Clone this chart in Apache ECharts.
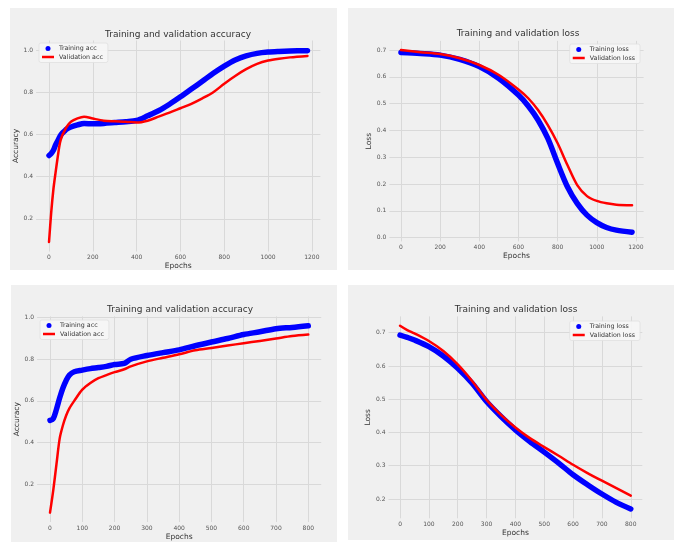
<!DOCTYPE html>
<html>
<head>
<meta charset="utf-8">
<script src="https://cdn.jsdelivr.net/npm/echarts@6/dist/echarts.min.js"></script>
<style>
html, body { margin: 0; padding: 0; background: #fff; }
#wrap { position: relative; width: 680px; height: 542px; overflow: hidden; }
.panel { position: absolute; background: #f0f0f0; }
#chart { position: absolute; left: 0; top: 0; width: 680px; height: 542px; }
</style>
</head>
<body>
<div id="wrap">
	<div class="panel" style="left:10px;top:8px;width:327px;height:262px;"></div>
	<div class="panel" style="left:348px;top:8px;width:326px;height:262px;"></div>
	<div class="panel" style="left:11px;top:285px;width:326px;height:257px;"></div>
	<div class="panel" style="left:348px;top:285px;width:326px;height:255px;"></div>
	<div id="chart"></div>
</div>
<script>
// run 1: 1200 epochs
var epochs1 = [0, 10, 20, 30, 40, 50, 60, 70, 80, 100, 130, 160, 200, 250, 300, 350, 400, 450, 500, 550, 600, 650, 700, 750, 800, 850, 900, 950, 1000, 1050, 1100, 1180];
var trainAcc1 = [0.50, 0.51, 0.525, 0.55, 0.57, 0.59, 0.605, 0.615, 0.625, 0.635, 0.645, 0.652, 0.65, 0.652, 0.656, 0.66, 0.666, 0.688, 0.712, 0.743, 0.778, 0.815, 0.852, 0.89, 0.924, 0.953, 0.972, 0.984, 0.99, 0.993, 0.995, 0.997];
var valAcc1 = [0.09, 0.23, 0.34, 0.42, 0.495, 0.56, 0.595, 0.615, 0.635, 0.66, 0.676, 0.684, 0.675, 0.665, 0.662, 0.66, 0.656, 0.665, 0.684, 0.703, 0.724, 0.745, 0.771, 0.80, 0.84, 0.877, 0.909, 0.934, 0.95, 0.959, 0.965, 0.972];

var lossEpochs1 = [0, 100, 200, 300, 400, 500, 600, 650, 700, 750, 800, 850, 900, 950, 1000, 1050, 1100, 1180];
var trainLoss1 = [0.691, 0.687, 0.681, 0.665, 0.638, 0.594, 0.532, 0.491, 0.439, 0.37, 0.277, 0.19, 0.128, 0.084, 0.056, 0.038, 0.028, 0.020];
var valLoss1 = [0.70, 0.692, 0.685, 0.669, 0.644, 0.607, 0.553, 0.52, 0.476, 0.42, 0.352, 0.271, 0.196, 0.155, 0.137, 0.128, 0.123, 0.121];

// run 2: 800 epochs
var epochs2 = [0, 10, 20, 30, 40, 50, 60, 75, 100, 125, 150, 175, 200, 230, 250, 300, 350, 400, 450, 500, 550, 600, 650, 700, 750, 800];
var trainAcc2 = [0.506, 0.515, 0.56, 0.615, 0.662, 0.698, 0.724, 0.74, 0.748, 0.755, 0.76, 0.766, 0.775, 0.78, 0.80, 0.818, 0.832, 0.845, 0.865, 0.883, 0.90, 0.919, 0.932, 0.947, 0.953, 0.961];
var valAcc2 = [0.063, 0.17, 0.296, 0.42, 0.483, 0.53, 0.564, 0.60, 0.654, 0.686, 0.709, 0.724, 0.738, 0.752, 0.766, 0.79, 0.807, 0.824, 0.843, 0.854, 0.866, 0.877, 0.888, 0.90, 0.912, 0.919];

var lossEpochs2 = [0, 25, 50, 100, 150, 200, 250, 300, 350, 400, 450, 500, 550, 600, 650, 700, 750, 800];
var trainLoss2 = [0.693, 0.686, 0.678, 0.658, 0.63, 0.593, 0.548, 0.493, 0.448, 0.408, 0.373, 0.341, 0.308, 0.273, 0.243, 0.215, 0.19, 0.17];
var valLoss2 = [0.721, 0.708, 0.698, 0.675, 0.645, 0.605, 0.555, 0.498, 0.453, 0.415, 0.383, 0.356, 0.33, 0.303, 0.278, 0.255, 0.233, 0.21];

var FONT = 'DejaVu Sans';
var GRID_COLOR = '#d9d9d9';

function pairs(xs, ys) {
	var out = [];
	for (var i = 0; i < xs.length; i++) {
		out.push([xs[i], ys[i]]);
	}
	return out;
}

function xAxis(idx, min, max, split) {
	return {
		type: 'value', gridIndex: idx, min: min, max: max, splitNumber: split,
		name: 'Epochs', nameLocation: 'middle', nameGap: 11,
		nameTextStyle: { fontSize: 7.5, color: '#333', fontFamily: FONT },
		axisLine: { show: false },
		axisTick: { show: false },
		axisLabel: {
			fontSize: 6, color: '#555', margin: 3, fontFamily: FONT, showMinLabel: false, showMaxLabel: false,
			formatter: function(v) { return String(v); }
		},
		splitLine: { showMinLine: false, showMaxLine: false, lineStyle: { color: GRID_COLOR, width: 1 } }
	};
}

function yAxis(idx, name, min, max, split, gap) {
	return {
		type: 'value', gridIndex: idx, min: min, max: max, splitNumber: split,
		name: name, nameLocation: 'middle', nameGap: gap,
		nameTextStyle: { fontSize: 7.5, color: '#333', fontFamily: FONT },
		axisLine: { show: false },
		axisTick: { show: false },
		axisLabel: {
			fontSize: 6, color: '#555', margin: 3, fontFamily: FONT, showMinLabel: false, showMaxLabel: false,
			formatter: function(v) { return v.toFixed(1); }
		},
		splitLine: { showMinLine: false, showMaxLine: false, lineStyle: { color: GRID_COLOR, width: 1 } }
	};
}

function title(text, x, y) {
	return {
		text: text, left: x, top: y, textAlign: 'center', padding: 0,
		textStyle: { fontSize: 9, fontWeight: 'normal', color: '#333', fontFamily: FONT }
	};
}

function legend(pos, names) {
	var l = {
		orient: 'vertical', top: pos.top,
		itemWidth: 12, itemHeight: 5, itemGap: 2.5,
		padding: [2.5, 5, 2.5, 3],
		backgroundColor: 'rgba(246,246,246,0.9)', borderColor: '#e0e0e0', borderWidth: 0.8, borderRadius: 2,
		textStyle: { fontSize: 6.3, color: '#333', fontFamily: FONT },
		data: [
			{ name: names[0], icon: 'circle' },
			{ name: names[1], icon: 'path://M0,0 L24,0 L24,5 L0,5 Z' }
		]
	};
	if (pos.left != null) l.left = pos.left;
	if (pos.right != null) l.right = pos.right;
	return l;
}

function trainSeries(name, idx, data) {
	return {
		type: 'line', name: name, xAxisIndex: idx, yAxisIndex: idx, data: data,
		symbol: 'circle', showSymbol: false, smooth: 0.3,
		itemStyle: { color: '#0000ff' },
		lineStyle: { color: '#0000ff', width: 5.5, cap: 'round', join: 'round' },
		z: 2
	};
}

function valSeries(name, idx, data) {
	return {
		type: 'line', name: name, xAxisIndex: idx, yAxisIndex: idx, data: data,
		symbol: 'none', smooth: 0.3,
		itemStyle: { color: '#ff0000' },
		lineStyle: { color: '#ff0000', width: 2.5, cap: 'round', join: 'round' },
		z: 3
	};
}

var chart = echarts.init(document.getElementById('chart'));

var option = {
	animation: false,
	backgroundColor: 'transparent',
	title: [
		title('Training and validation accuracy', 178, 30),
		title('Training and validation loss', 518, 29.5),
		title('Training and validation accuracy', 180, 305.5),
		title('Training and validation loss', 516, 305.5)
	],
	legend: [
		legend({ left: 39, top: 43 }, ['Training acc', 'Validation acc']),
		legend({ right: 40, top: 44 }, ['Training loss', 'Validation loss']),
		legend({ left: 40, top: 320 }, ['Training acc', 'Validation acc']),
		legend({ right: 40, top: 321 }, ['Training loss', 'Validation loss'])
	],
	grid: [
		{ left: 36.1, top: 40.5, width: 284.3, height: 211 },
		{ left: 389.4, top: 40.9, width: 254.2, height: 200.5 },
		{ left: 37.1, top: 316.4, width: 284.1, height: 211.5 },
		{ left: 388.5, top: 316.4, width: 253.8, height: 201.9 }
	],
	xAxis: [
		xAxis(0, -59, 1239, 6),
		xAxis(1, -59, 1239, 6),
		xAxis(2, -40, 840, 8),
		xAxis(3, -40, 840, 8)
	],
	yAxis: [
		yAxis(0, 'Accuracy', 0.045, 1.045, 5, 12),
		yAxis(1, 'Loss', -0.014, 0.734, 7, 9),
		yAxis(2, 'Accuracy', 0.018, 1.006, 5, 12),
		yAxis(3, 'Loss', 0.142, 0.749, 6, 9)
	],
	series: [
		trainSeries('Training acc', 0, pairs(epochs1, trainAcc1)),
		valSeries('Validation acc', 0, pairs(epochs1, valAcc1)),
		trainSeries('Training loss', 1, pairs(lossEpochs1, trainLoss1)),
		valSeries('Validation loss', 1, pairs(lossEpochs1, valLoss1)),
		trainSeries('Training acc', 2, pairs(epochs2, trainAcc2)),
		valSeries('Validation acc', 2, pairs(epochs2, valAcc2)),
		trainSeries('Training loss', 3, pairs(lossEpochs2, trainLoss2)),
		valSeries('Validation loss', 3, pairs(lossEpochs2, valLoss2))
	]
};

chart.setOption(option);
</script>
</body>
</html>
